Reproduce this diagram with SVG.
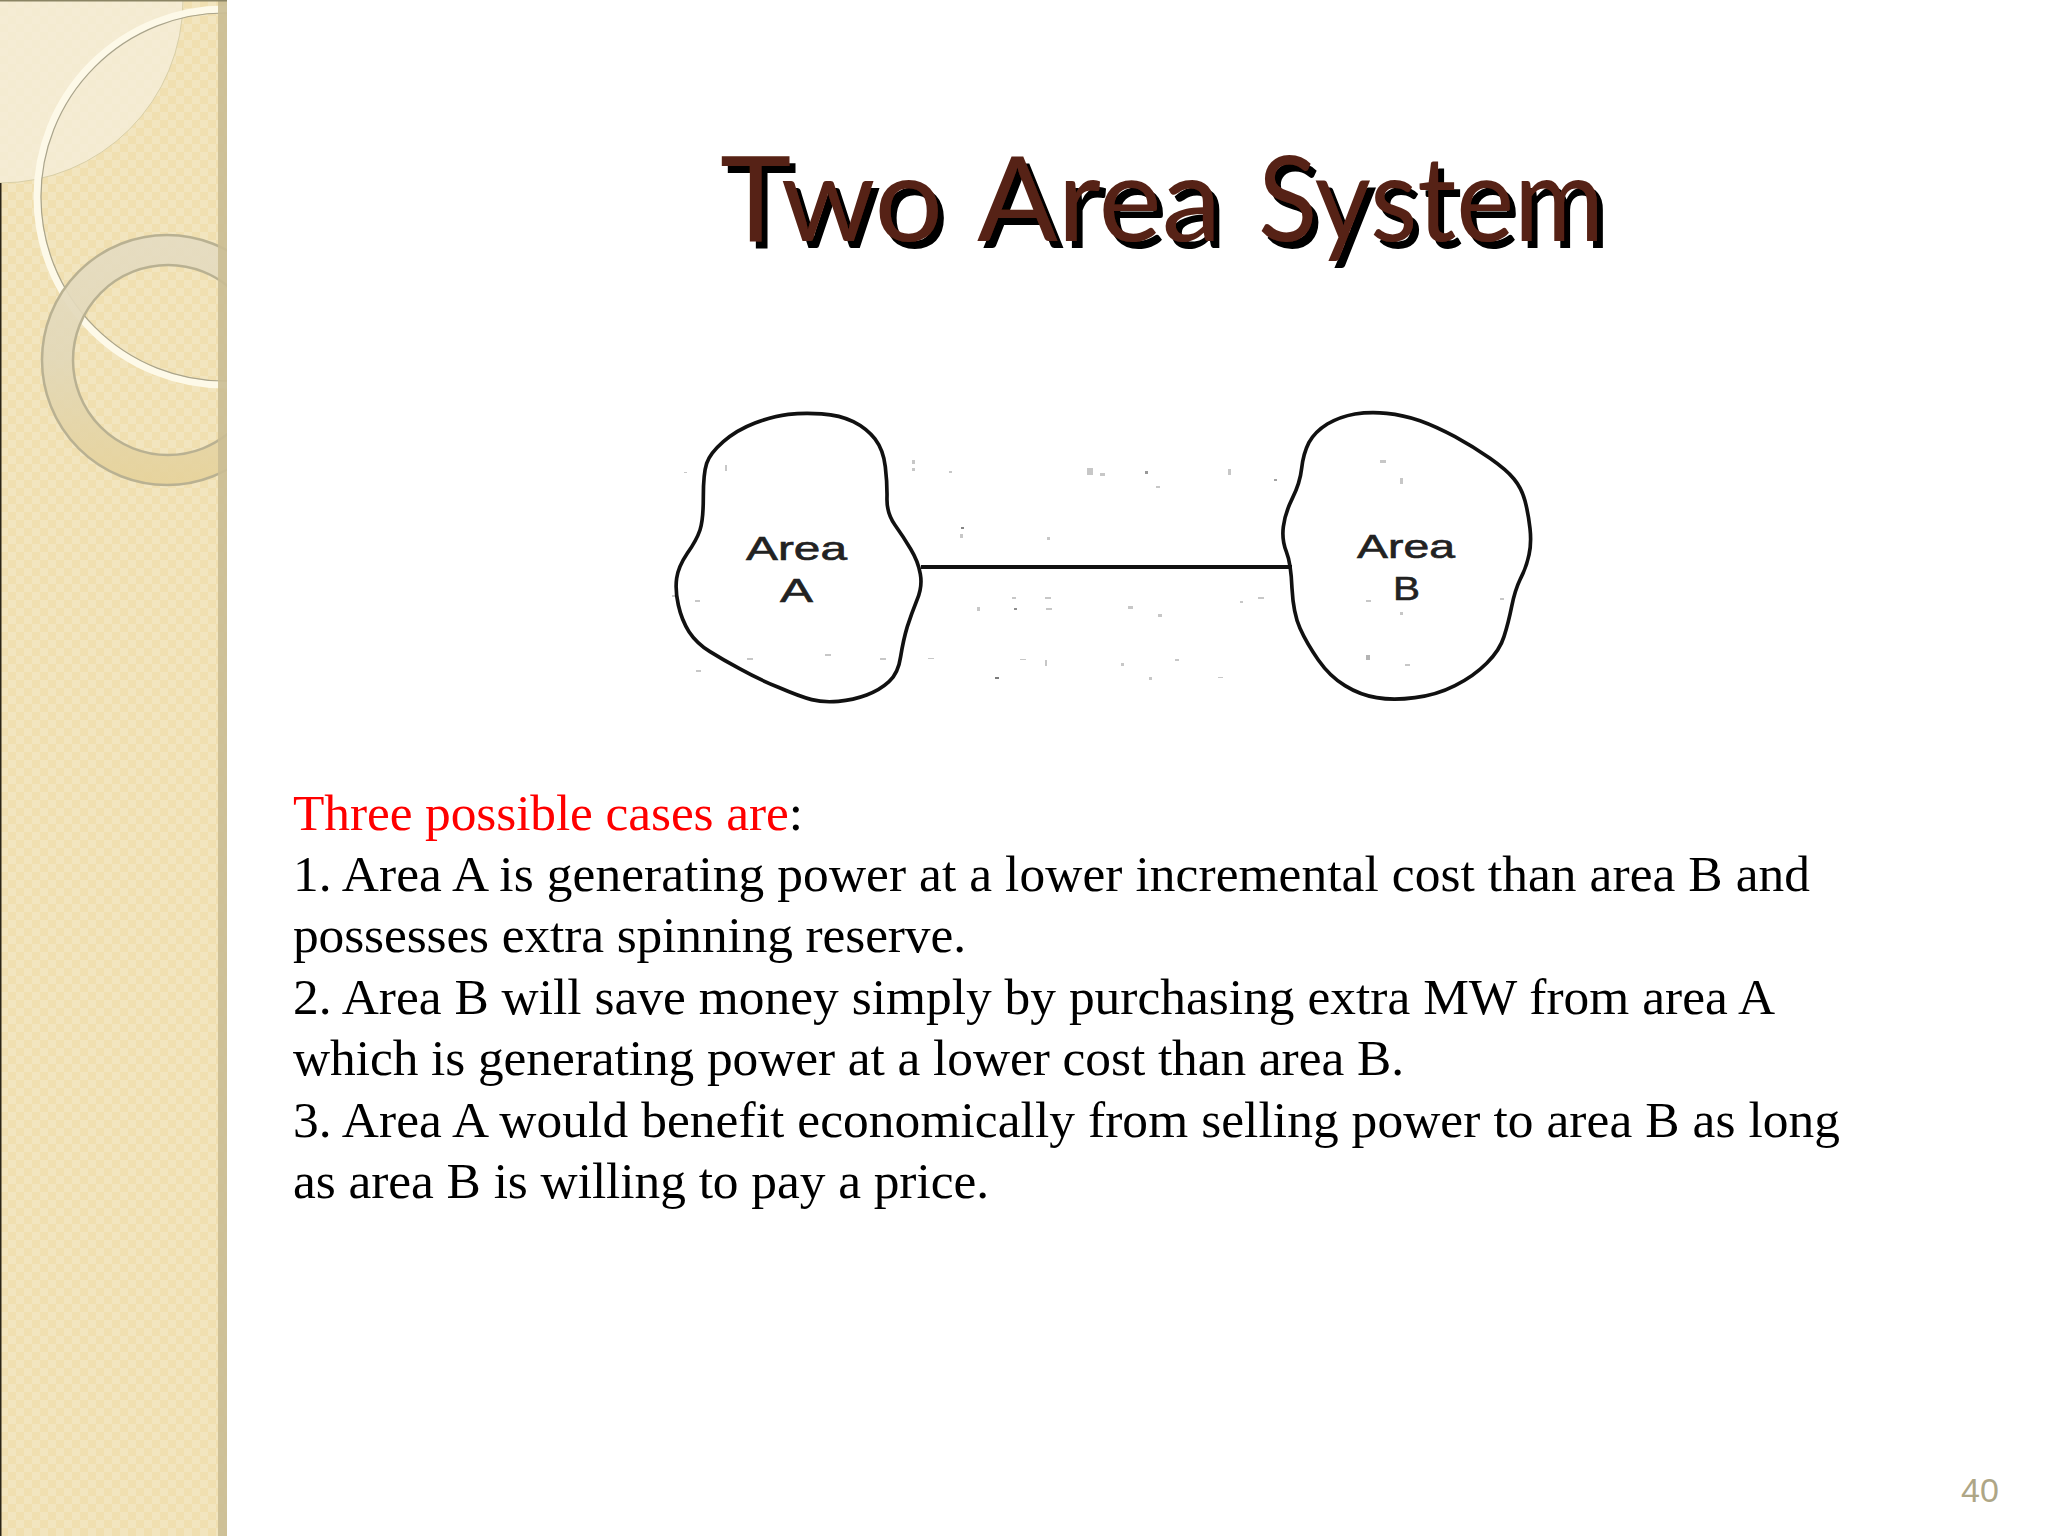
<svg xmlns="http://www.w3.org/2000/svg" width="2048" height="1536" viewBox="0 0 2048 1536">
<style>
.body{font-family:"Liberation Serif","Times New Roman",serif;font-size:51.4px;fill:#000}
.lbl{font-family:"Liberation Sans",Arial,sans-serif;font-size:33px;fill:#222;stroke:#222;stroke-width:.6px}
.blob{fill:none;stroke:#111;stroke-width:11;stroke-linejoin:round}
.title{font-family:Lato,"Liberation Sans",sans-serif;font-size:118px;fill:#572316;filter:url(#sh)}
</style>
<defs>
<filter id="sh" x="-10%" y="-10%" width="120%" height="120%"><feDropShadow dx="6" dy="7" stdDeviation="0" flood-color="#000"/></filter>
<pattern id="chk" width="16" height="16" patternUnits="userSpaceOnUse">
<rect width="16" height="16" fill="#f0dfb0"/>
<rect width="8" height="8" fill="#f2e5bf"/>
<rect x="8" y="8" width="8" height="8" fill="#f2e5bf"/>
</pattern>
<linearGradient id="ringG" x1="0" y1="0" x2="0" y2="1">
<stop offset="0" stop-color="#e5dcc2"/><stop offset=".5" stop-color="#e2d8b8"/><stop offset="1" stop-color="#e6d29a"/>
</linearGradient>
<clipPath id="strip"><rect width="227" height="1536"/></clipPath>
</defs>
<rect width="2048" height="1536" fill="#fff"/>
<g id="sidebar" clip-path="url(#strip)">
<rect width="227" height="1536" fill="url(#chk)"/>
<circle cx="0" cy="0" r="183" fill="#f5eed9" fill-opacity=".8" stroke="#d8cfa8" stroke-width="1"/>
<circle cx="225" cy="197" r="188" fill="none" stroke="#fdf9e8" stroke-width="7"/>
<circle cx="225" cy="197" r="184" fill="none" stroke="#a9a48c" stroke-width="1.2"/>
<path fill-rule="evenodd" fill="url(#ringG)" fill-opacity=".92" stroke="#b9b192" stroke-width="2.5" d="M42 360a125 125 0 1 0 250 0a125 125 0 1 0-250 0ZM73 360a95 95 0 1 0 190 0a95 95 0 1 0-190 0Z"/>
<rect x="218" width="9" height="1536" fill="#cabd94" fill-opacity=".9"/>
<rect x="0" y="183" width="1.5" height="1353" fill="#2a2416"/>
<rect width="227" height="1.5" fill="#8a8464"/>
</g>
<g id="title">
<text class="title" x="720" y="241" textLength="223" lengthAdjust="spacingAndGlyphs">Two</text>
<text class="title" x="977" y="241" textLength="244" lengthAdjust="spacingAndGlyphs">Area</text>
<text class="title" x="1258" y="241" textLength="346" lengthAdjust="spacingAndGlyphs">System</text>
</g>
<g id="connectors">
<line x1="921" y1="567" x2="1292" y2="567" stroke="#111" stroke-width="4"/>
</g>
<g id="specks" fill="#999" fill-opacity=".55">
<rect x="912" y="460" width="3" height="4"/><rect x="912" y="468" width="3" height="3"/><rect x="949" y="471" width="3" height="2"/>
<rect x="1087" y="468" width="6" height="7"/><rect x="1100" y="473" width="5" height="3"/><rect x="1145" y="471" width="3" height="3" fill="#444"/>
<rect x="1156" y="486" width="4" height="2"/><rect x="1228" y="469" width="3" height="6"/><rect x="1274" y="479" width="3" height="2" fill="#555"/>
<rect x="961" y="527" width="3" height="2" fill="#222"/><rect x="960" y="534" width="3" height="4"/><rect x="1047" y="537" width="3" height="3"/>
<rect x="1012" y="597" width="4" height="2"/><rect x="1014" y="608" width="3" height="2" fill="#333"/><rect x="977" y="607" width="3" height="4"/>
<rect x="1045" y="597" width="6" height="2"/><rect x="1046" y="608" width="6" height="2"/><rect x="1128" y="606" width="5" height="3"/>
<rect x="1158" y="614" width="4" height="3"/><rect x="1240" y="601" width="3" height="2"/><rect x="1258" y="597" width="6" height="2"/>
<rect x="928" y="658" width="6" height="1"/><rect x="995" y="677" width="4" height="2" fill="#111"/><rect x="1020" y="659" width="6" height="1"/>
<rect x="1045" y="660" width="2" height="6"/><rect x="1121" y="663" width="3" height="3"/><rect x="1175" y="659" width="4" height="2"/>
<rect x="1149" y="677" width="3" height="3"/><rect x="1218" y="677" width="5" height="1"/><rect x="684" y="472" width="3" height="1"/>
<rect x="725" y="465" width="2" height="6"/><rect x="672" y="595" width="5" height="2"/><rect x="695" y="600" width="5" height="2"/>
<rect x="696" y="670" width="5" height="2"/><rect x="747" y="658" width="6" height="2"/><rect x="825" y="654" width="6" height="2"/><rect x="880" y="658" width="6" height="2"/>
<rect x="1380" y="460" width="6" height="3"/><rect x="1400" y="478" width="3" height="6"/><rect x="1366" y="600" width="5" height="2"/><rect x="1400" y="612" width="3" height="3"/>
<rect x="1366" y="655" width="4" height="5" fill="#777"/><rect x="1405" y="664" width="5" height="2"/><rect x="1500" y="598" width="4" height="2"/>
</g>
<g id="area-a">
<path class="blob" transform="translate(640 390) scale(.3333)" d="M545 71.5Q600 75 640 95Q680 115 705 147Q730 180 736 230Q742 280 741 325Q740 370 765 405Q790 440 812 477Q835 515 841 552Q848 590 831 630Q815 670 802 710Q790 750 782 800Q775 850 747 875Q720 900 680 915Q640 930 595 934Q550 938 515 929Q480 920 415 892Q350 865 300 837Q250 810 210 785Q170 760 147 725Q125 690 115 645Q105 600 110 565Q115 530 142 490Q170 450 180 420Q190 390 190 320Q190 250 200 220Q210 190 250 155Q290 120 345 99Q400 78 445 73Q490 68 545 71.5Z"/>
<text class="lbl" x="746" y="560" textLength="101" lengthAdjust="spacingAndGlyphs">Area</text>
<text class="lbl" x="780" y="602" textLength="33" lengthAdjust="spacingAndGlyphs">A</text>
</g>
<g id="area-b">
<path class="blob" transform="translate(1260 390) scale(.3333)" d="M380 70Q430 75 480 92Q530 110 585 140Q640 170 690 205Q740 240 762 267Q785 295 795 332Q805 370 810 415Q815 460 807 495Q800 530 782 565Q765 600 755 650Q745 700 732 740Q720 780 680 820Q640 860 585 887Q530 915 465 923Q400 932 350 923Q300 915 255 887Q210 860 175 810Q140 760 120 715Q100 670 96 595Q93 520 79 485Q65 450 70 410Q75 370 97 325Q120 280 125 235Q130 190 147 157Q165 125 202 102Q240 80 285 72Q330 65 380 70Z"/>
<text class="lbl" x="1357" y="558" textLength="98" lengthAdjust="spacingAndGlyphs">Area</text>
<text class="lbl" x="1393" y="600" textLength="27" lengthAdjust="spacingAndGlyphs">B</text>
</g>
<g id="body">
<text class="body" x="293" y="830" textLength="510"><tspan fill="#ff0000">Three possible cases are</tspan>:</text>
<text class="body" x="293" y="891" textLength="1517">1. Area A is generating power at a lower incremental cost than area B and</text>
<text class="body" x="293" y="952" textLength="673">possesses extra spinning reserve.</text>
<text class="body" x="293" y="1014" textLength="1482">2. Area B will save money simply by purchasing extra MW from area A</text>
<text class="body" x="293" y="1075" textLength="1111">which is generating power at a lower cost than area B.</text>
<text class="body" x="293" y="1137" textLength="1547">3. Area A would benefit economically from selling power to area B as long</text>
<text class="body" x="293" y="1198" textLength="696">as area B is willing to pay a price.</text>
</g>
<g id="page-number">
<text x="1961" y="1502" font-family="Liberation Sans, Arial, sans-serif" font-size="34" fill="#aea686">40</text>
</g>
</svg>
